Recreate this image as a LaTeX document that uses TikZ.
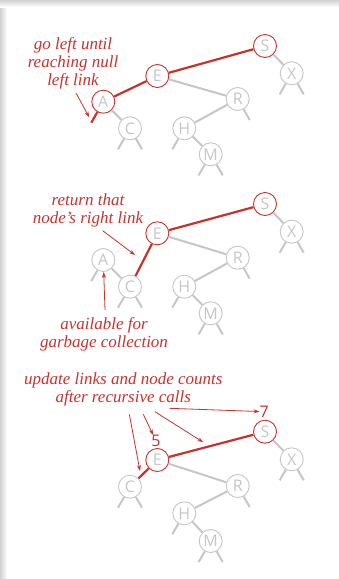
\documentclass[tikz,border=0pt]{standalone}
\usepackage{fontspec}
\setsansfont{Open Sans}
\newfontfamily\notefont{Liberation Serif}
\usetikzlibrary{arrows.meta}
\definecolor{bookred}{RGB}{200,50,45}
\definecolor{linkgray}{RGB}{198,198,198}
\newcommand{\stubL}[2][glink]{\draw[#1] (#2) -- ++(-12,21);}
\newcommand{\stubR}[2][glink]{\draw[#1] (#2) -- ++(12,21);}
\begin{document}
\begin{tikzpicture}[x=1pt,y=-1pt,
    key/.style={circle,draw=linkgray,fill=white,line width=0.9pt,minimum size=23pt,inner sep=0pt,
      font=\sffamily\fontsize{16}{16}\selectfont,text=linkgray},
    hot/.style={key,draw=bookred},
    glink/.style={linkgray,line width=2pt},
    rlink/.style={bookred,line width=2.2pt},
    note/.style={text=bookred,font=\notefont\itshape\fontsize{17}{18}\selectfont,align=center,inner sep=0pt},
    pointer/.style={bookred,line width=0.8pt,-{Stealth[length=6pt,width=4pt]}},
    count/.style={text=bookred,font=\sffamily\fontsize{16}{16}\selectfont,inner sep=0pt}]
  \useasboundingbox (0,0) rectangle (339,579);
  % page shadow
  \shade[left color=black!18,right color=white] (0,0) rectangle (7,579);
  \shade[top color=black!18,bottom color=white] (0,0) rectangle (339,7);

  % go left until reaching null left link
  \node[hot] (Sa) at (265,46) {S};
  \node[key] (Xa) at (291.7,73.3) {X};
  \node[hot] (Ea) at (157.3,76) {E};
  \node[hot] (Aa) at (103.3,101.7) {A};
  \node[key] (Ra) at (237.7,99) {R};
  \node[key] (Ca) at (130,128.3) {C};
  \node[key] (Ha) at (184.3,128.3) {H};
  \node[key] (Ma) at (210.7,154.3) {M};
  \draw[glink] (Sa) -- (Xa);
  \draw[glink] (Ea) -- (Ra);
  \draw[glink] (Aa) -- (Ca);
  \draw[glink] (Ra) -- (Ha);
  \draw[glink] (Ha) -- (Ma);
  \stubL{Xa} \stubR{Xa} \stubR{Ra} \stubL{Ha}
  \stubL{Ca} \stubR{Ca} \stubL{Ma} \stubR{Ma}
  \draw[rlink] (Sa) -- (Ea);
  \draw[rlink] (Ea) -- (Aa);
  \stubL[rlink]{Aa}
  \node[note] (golbl) at (73,63) {go left until\\reaching null\\left link};
  \coordinate (gotail) at (76,93);
  \coordinate (gohead) at (89.3,117.3);
  \draw[pointer] (gotail) -- (gohead);

  % return that node's right link
  \node[hot] (Sb) at (265,204) {S};
  \node[key] (Xb) at (291.7,231.7) {X};
  \node[hot] (Eb) at (157.3,233.3) {E};
  \node[key] (Ab) at (103.3,260) {A};
  \node[key] (Rb) at (237.7,257.7) {R};
  \node[key] (Cb) at (130,286.7) {C};
  \node[key] (Hb) at (184.3,286.7) {H};
  \node[key] (Mb) at (210.7,313.3) {M};
  \draw[glink] (Sb) -- (Xb);
  \draw[glink] (Eb) -- (Rb);
  \draw[glink] (Ab) -- (Cb);
  \draw[glink] (Rb) -- (Hb);
  \draw[glink] (Hb) -- (Mb);
  \stubL{Xb} \stubR{Xb} \stubR{Rb} \stubL{Hb} \stubL{Ab}
  \stubL{Cb} \stubR{Cb} \stubL{Mb} \stubR{Mb}
  \draw[rlink] (Sb) -- (Eb);
  \draw[rlink] (Eb) -- (Cb);
  \node[note] (retlbl) at (88,210) {return that\\node’s right link};
  \coordinate (rettail) at (102.7,230.7);
  \coordinate (rethead) at (135,255);
  \draw[pointer] (rettail) -- (rethead);
  \node[note] (garblbl) at (104,334) {available for\\garbage collection};
  \coordinate (gartail) at (105,310);
  \draw[pointer] (gartail) -- (Ab);

  % update links and node counts
  \node[hot] (Sc) at (265,431.7) {S};
  \node[key] (Xc) at (291.7,459.3) {X};
  \node[hot] (Ec) at (157.3,460) {E};
  \node[key] (Rc) at (237.7,486) {R};
  \node[key] (Cc) at (130,486.7) {C};
  \node[key] (Hc) at (184.3,513.3) {H};
  \node[key] (Mc) at (210.7,541) {M};
  \draw[glink] (Sc) -- (Xc);
  \draw[glink] (Ec) -- (Rc);
  \draw[glink] (Rc) -- (Hc);
  \draw[glink] (Hc) -- (Mc);
  \stubL{Xc} \stubR{Xc} \stubR{Rc} \stubL{Hc}
  \stubL{Cc} \stubR{Cc} \stubL{Mc} \stubR{Mc}
  \draw[rlink] (Sc) -- (Ec);
  \draw[rlink] (Ec) -- (Cc);
  \node[count] (Scnt) at (264.3,411.7) {7};
  \node[count] (Ecnt) at (156,441) {5};
  \node[note] (updlbl) at (123.3,389) {update links and node counts\\after recursive calls};
  \coordinate (updtailC) at (129.3,414.3);
  \coordinate (updheadC) at (140,471);
  \coordinate (updtailE) at (143.3,414.3);
  \coordinate (updtailL) at (155,411.7);
  \coordinate (updheadL) at (203.3,442.3);
  \coordinate (updtailS) at (169.3,408.3);
  \draw[pointer] (updtailC) -- (updheadC);
  \draw[pointer] (updtailE) -- (Ecnt);
  \draw[pointer] (updtailL) -- (updheadL);
  \draw[pointer] (updtailS) -- (Scnt);
\end{tikzpicture}
\end{document}
